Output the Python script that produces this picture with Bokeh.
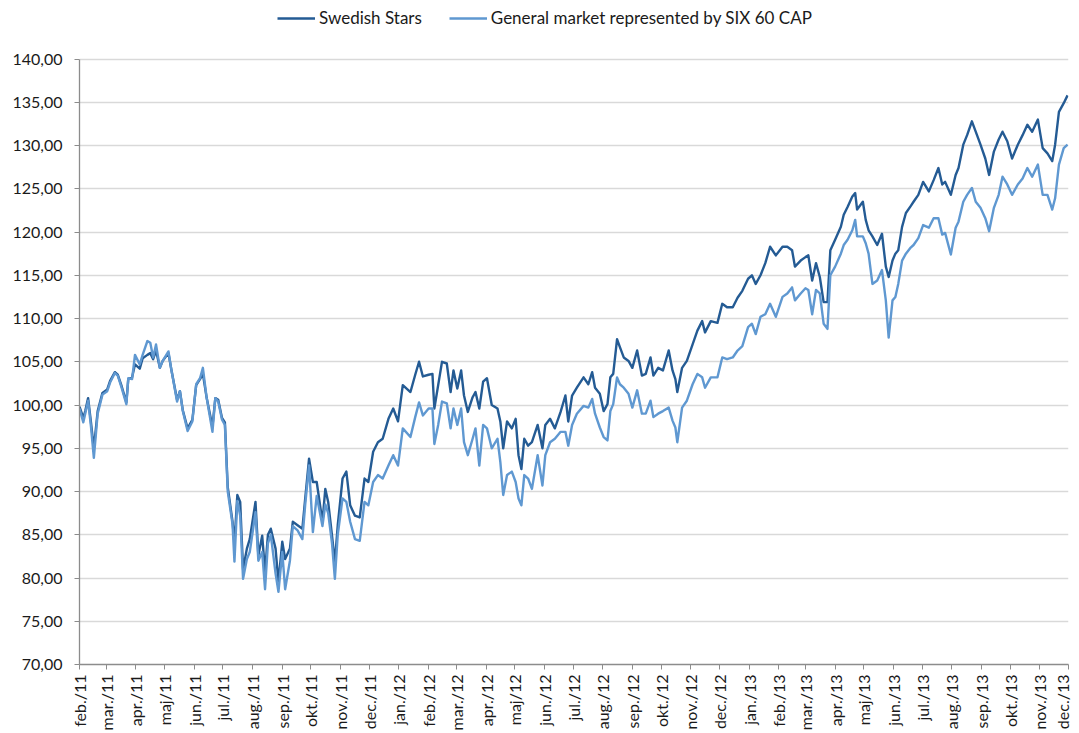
import math
import pandas as pd
from bokeh.plotting import figure
from bokeh.models import (ColumnDataSource, FixedTicker, CustomJSTickFormatter,
                          Legend, LegendItem, Range1d)
from bokeh.embed import file_html
from bokeh.resources import INLINE

start_date = "2011-02-01"
end_date = "2013-12-01"

# days after start_date
day_offsets = [0, 4, 6, 9, 12, 15, 19, 24, 29, 32, 37, 40, 44, 49, 51, 55, 58, 63, 66, 71, 74, 77, 80, 84, 87, 93, 96,
               102, 105, 108, 113, 118, 122, 126, 129, 133, 139, 142, 145, 149, 152, 155, 160, 162, 165, 168, 171, 175,
               178, 184, 187, 191, 194, 197, 200, 205, 208, 212, 215, 220, 223, 228, 233, 236, 240, 244, 248, 254, 257,
               260, 264, 267, 270, 275, 279, 283, 288, 293, 298, 302, 307, 312, 317, 323, 328, 333, 338, 346, 351, 355,
               359, 365, 369, 371, 375, 379, 384, 388, 391, 395, 399, 402, 406, 411, 414, 418, 422, 426, 431, 437, 440,
               443, 447, 452, 456, 459, 462, 465, 469, 473, 479, 484, 487, 492, 497, 503, 508, 511, 515, 520, 527, 532,
               536, 539, 544, 548, 552, 555, 558, 562, 565, 569, 574, 578, 583, 588, 592, 597, 600, 605, 610, 616, 620,
               623, 625, 630, 635, 641, 646, 651, 654, 660, 667, 672, 677, 683, 688, 693, 699, 703, 707, 712, 717, 722,
               728, 735, 740, 745, 748, 754, 759, 762, 766, 770, 774, 778, 782, 785, 790, 796, 799, 803, 808, 811, 813,
               819, 822, 825, 829, 834, 839, 843, 846, 850, 853, 856, 860, 864, 869, 872, 877, 882, 888, 893, 898, 902,
               905, 911, 916, 919, 924, 928, 933, 937, 942, 947, 951, 956, 961, 965, 970, 975, 981, 986, 991, 996, 1002,
               1007, 1012, 1017, 1020, 1024, 1029, 1033]

swedish_stars = [99.8, 98.5, 99.3, 100.8, 98.0, 95.0, 99.3, 101.4, 101.8, 102.8, 103.8, 103.5, 102.2, 100.3, 103.0,
                 103.2, 104.7, 104.2, 105.4, 105.8, 106.0, 105.3, 106.3, 104.3, 105.1, 106.0, 104.1, 100.6, 101.6, 99.4,
                 97.3, 98.3, 102.3, 103.0, 103.6, 100.8, 97.5, 100.8, 100.6, 98.5, 98.0, 90.5, 86.5, 84.0, 89.6, 88.8,
                 81.0, 83.4, 84.5, 88.8, 82.6, 84.9, 80.7, 85.0, 85.7, 83.4, 79.5, 84.2, 82.2, 83.4, 86.5, 86.1, 85.7,
                 89.2, 93.8, 91.1, 91.1, 86.5, 90.3, 88.8, 84.9, 81.8, 86.1, 91.5, 92.3, 88.4, 87.2, 87.0, 91.5, 91.1,
                 94.6, 95.7, 96.1, 98.4, 99.6, 98.1, 102.3, 101.5, 103.5, 105.0, 103.3, 103.5, 103.6, 99.6, 102.3, 105.0,
                 104.8, 101.5, 104.0, 101.9, 104.0, 101.1, 99.2, 100.9, 101.5, 99.6, 102.7, 103.1, 100.0, 99.6, 98.1,
                 95.0, 98.1, 97.3, 98.4, 94.2, 92.6, 96.1, 95.3, 95.7, 97.7, 95.0, 97.7, 98.4, 97.3, 99.2, 101.1, 98.1,
                 101.1, 102.0, 103.2, 102.4, 103.8, 102.0, 101.3, 99.3, 100.1, 103.2, 103.6, 107.6, 106.7, 105.5, 105.1,
                 104.3, 106.3, 103.4, 103.6, 105.5, 103.4, 104.3, 104.0, 106.3, 104.0, 103.0, 101.5, 104.3, 105.1, 107.0,
                 108.6, 109.7, 108.4, 109.7, 109.5, 111.7, 111.3, 111.3, 112.4, 113.2, 114.6, 115.0, 114.0, 115.0, 116.4,
                 118.3, 117.3, 118.3, 118.3, 117.9, 116.0, 116.7, 117.1, 117.3, 114.4, 116.4, 114.8, 111.9, 111.9, 117.9,
                 119.1, 120.6, 122.0, 122.9, 124.1, 124.5, 122.6, 123.5, 121.4, 120.2, 119.5, 118.5, 119.8, 116.0, 114.8,
                 116.7, 117.5, 117.9, 120.6, 122.2, 123.0, 123.5, 124.3, 125.8, 124.7, 126.0, 127.4, 125.5, 125.8, 124.3,
                 126.6, 127.4, 130.1, 131.2, 132.8, 131.6, 130.1, 128.5, 126.6, 129.3, 130.7, 131.6, 130.5, 128.5, 130.1,
                 131.2, 132.4, 131.6, 133.0, 129.7, 129.1, 128.2, 130.1, 133.9, 134.9, 135.8]

six_60_cap = [99.6, 98.0, 99.0, 100.5, 97.5, 93.9, 99.0, 101.2, 101.6, 102.6, 103.7, 103.4, 102.0, 100.1, 103.1, 103.0,
              105.8, 104.7, 105.8, 107.4, 107.2, 105.5, 107.0, 104.3, 105.1, 106.2, 104.1, 100.4, 101.6, 99.3, 97.0,
              98.1, 102.4, 103.1, 104.3, 100.8, 96.9, 100.8, 100.4, 98.3, 97.7, 90.0, 86.2, 81.9, 88.9, 87.2, 79.9,
              82.2, 83.0, 87.6, 82.0, 83.0, 78.7, 84.0, 85.0, 80.5, 78.4, 83.0, 78.7, 82.0, 86.0, 85.5, 84.5, 88.5,
              93.0, 85.3, 89.5, 86.0, 88.5, 87.5, 84.0, 79.9, 85.0, 89.2, 88.8, 86.5, 84.5, 84.3, 88.8, 88.4, 91.1,
              91.9, 91.5, 93.0, 94.2, 93.0, 97.3, 96.3, 98.6, 100.3, 98.8, 99.6, 99.6, 95.5, 97.7, 100.4, 100.2, 97.3,
              99.6, 97.7, 99.6, 95.7, 94.2, 96.1, 97.3, 93.0, 97.7, 97.3, 95.0, 96.1, 93.4, 89.6, 91.9, 92.3, 91.1,
              89.2, 88.4, 91.9, 91.5, 90.3, 94.2, 90.7, 94.2, 95.7, 96.1, 96.9, 96.9, 95.3, 97.7, 99.0, 99.9, 99.7,
              100.7, 99.0, 97.4, 96.3, 95.9, 99.3, 100.1, 103.2, 102.4, 102.0, 101.3, 99.7, 101.7, 99.0, 99.0, 100.5,
              98.6, 99.0, 99.3, 99.7, 98.2, 97.4, 95.7, 99.7, 100.5, 102.4, 103.6, 103.2, 102.0, 103.2, 103.2, 105.5,
              105.3, 105.5, 106.3, 106.8, 109.0, 109.4, 108.2, 110.2, 110.5, 111.7, 110.2, 112.5, 112.9, 113.6, 112.1,
              112.9, 113.5, 113.3, 110.5, 113.3, 112.9, 109.4, 108.8, 115.0, 116.0, 117.5, 118.5, 119.1, 120.2, 121.4,
              119.5, 119.5, 118.7, 117.5, 114.0, 114.4, 115.6, 112.1, 107.8, 112.1, 112.5, 114.0, 116.7, 117.5, 118.2,
              118.5, 119.3, 120.8, 120.5, 121.6, 121.6, 119.7, 119.9, 117.4, 120.5, 121.2, 123.5, 124.3, 125.1, 123.5,
              122.8, 121.6, 120.1, 122.8, 124.3, 126.4, 125.5, 124.3, 125.5, 126.2, 127.4, 126.4, 127.8, 124.3, 124.3,
              122.6, 123.9, 127.8, 129.7, 130.1]

month_labels = ["feb./11", "mar./11", "apr./11", "maj/11", "jun./11", "jul./11", "aug./11", "sep./11", "okt./11",
                "nov./11", "dec./11", "jan./12", "feb./12", "mar./12", "apr./12", "maj/12", "jun./12", "jul./12",
                "aug./12", "sep./12", "okt./12", "nov./12", "dec./12", "jan./13", "feb./13", "mar./13", "apr./13",
                "maj/13", "jun./13", "jul./13", "aug./13", "sep./13", "okt./13", "nov./13", "dec./13"]

y_ticks = [70, 75, 80, 85, 90, 95, 100, 105, 110, 115, 120, 125, 130, 135, 140]
y_min, y_max = 70, 140

series_names = ["Swedish Stars", "General market represented by SIX 60 CAP"]
series_colors = ["#245B94", "#5F98D1"]

assert len(day_offsets) == len(swedish_stars) == len(six_60_cap)

t0 = pd.Timestamp(start_date)
month_starts = pd.date_range(start_date, end_date, freq="MS")
tick_days = [int((d - t0).days) for d in month_starts]
total_days = int((pd.Timestamp(end_date) - t0).days)

src = ColumnDataSource(dict(x=day_offsets, a=swedish_stars, b=six_60_cap))

# layout: the data area spans 605 px for 70..140; the frame is extended upward
# so the legend can sit above the 140 line inside the frame.
plot_px = 605.0
top_pad = 58.5
frame_h = plot_px + top_pad
y_top = y_max + top_pad * (y_max - y_min) / plot_px

FONT = "Lato"
p = figure(frame_width=989, frame_height=int(round(frame_h)), output_backend="svg", toolbar_location=None,
           x_range=Range1d(0, total_days), y_range=Range1d(y_min, y_top),
           min_border_left=79, min_border_right=3, min_border_top=0, min_border_bottom=62)
p.outline_line_color = None
p.background_fill_color = "white"
p.border_fill_color = "white"

r1 = p.line("x", "a", source=src, line_color=series_colors[0], line_width=2.4, line_join="round")
r2 = p.line("x", "b", source=src, line_color=series_colors[1], line_width=2.4, line_join="round")

p.xgrid.grid_line_color = None
p.ygrid.grid_line_color = "#d9d9d9"
p.ygrid.grid_line_width = 1.6

p.yaxis.ticker = FixedTicker(ticks=y_ticks)
p.yaxis.bounds = (y_min, y_max)
p.yaxis.formatter = CustomJSTickFormatter(code="return tick.toFixed(2).replace('.', ',');")
p.xaxis.ticker = FixedTicker(ticks=tick_days)
p.xaxis.major_label_overrides = {d: lab for d, lab in zip(tick_days, month_labels)}
p.xaxis.major_label_orientation = math.pi / 2

for ax in (p.xaxis[0], p.yaxis[0]):
    ax.axis_line_color = "#8c8c8c"
    ax.axis_line_width = 1.3
    ax.major_tick_line_color = "#8c8c8c"
    ax.major_tick_out = 5
    ax.major_tick_in = 0
    ax.minor_tick_line_color = None
    ax.major_label_text_font = FONT
    ax.major_label_text_font_size = "16px"
    ax.major_label_text_color = "#1a1a1a"
p.yaxis.major_label_standoff = 12
p.xaxis.major_label_standoff = 5

legend = Legend(items=[LegendItem(label=series_names[0], renderers=[r1]),
                       LegendItem(label=series_names[1], renderers=[r2])],
                orientation="horizontal", location=(198, int(round(frame_h - 17 - 10))),
                padding=0, margin=0, spacing=27, glyph_width=38, glyph_height=20,
                label_standoff=4, label_text_font=FONT, label_text_font_size="17px",
                label_text_color="#1a1a1a",
                background_fill_alpha=0, border_line_color=None)
p.add_layout(legend, "center")

open("out.html", "w").write(file_html(p, INLINE))
